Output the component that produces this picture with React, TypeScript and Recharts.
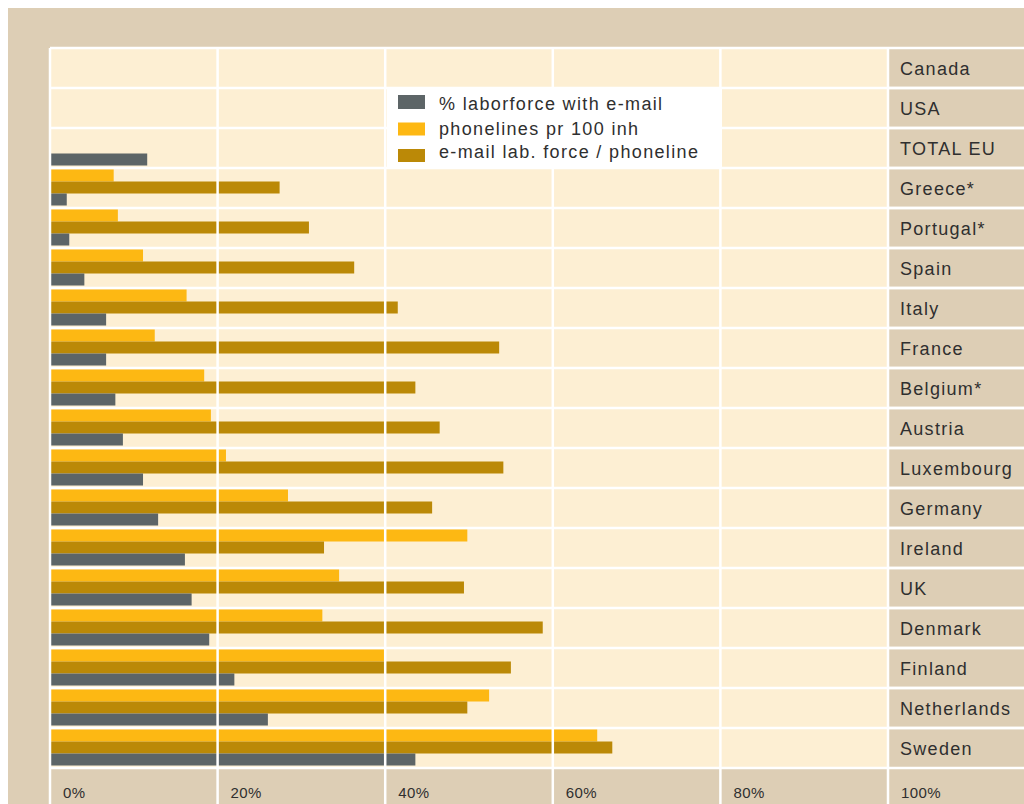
import React from 'react';
import { BarChart, Bar, XAxis, YAxis, CartesianGrid, ReferenceLine, Legend } from 'recharts';

const countries = ['Canada', 'USA', 'TOTAL EU', 'Greece*', 'Portugal*', 'Spain', 'Italy', 'France', 'Belgium*', 'Austria', 'Luxembourg', 'Germany', 'Ireland', 'UK', 'Denmark', 'Finland', 'Netherlands', 'Sweden'];
const laborforceEmail = [null, null, 11.6, 2.0, 2.3, 4.1, 6.7, 6.7, 7.8, 8.7, 11.1, 12.9, 16.1, 16.9, 19.0, 22.0, 26.0, 43.6];
const phonelines = [null, null, null, 7.6, 8.1, 11.1, 16.3, 12.5, 18.4, 19.2, 21.0, 28.4, 49.8, 34.5, 32.5, 39.9, 52.4, 65.3];
const emailPerPhoneline = [null, null, null, 27.4, 30.9, 36.3, 41.5, 53.6, 43.6, 46.5, 54.1, 45.6, 32.7, 49.4, 58.8, 55.0, 49.8, 67.1];
const xTicks = [0, 20, 40, 60, 80, 100];

const seriesNames = {
  laborforce: '% laborforce with e-mail',
  phonelines: 'phonelines pr 100 inh',
  perPhoneline: 'e-mail lab. force / phoneline',
};
const legendOrder = ['laborforce', 'phonelines', 'perPhoneline'];

const data = countries.map((c, i) => ({
  country: c,
  laborforce: laborforceEmail[i],
  phonelines: phonelines[i],
  perPhoneline: emailPerPhoneline[i],
}));

const W = 1016;
const H = 796;
const MARGIN = { top: 40, right: 0, bottom: 0, left: 42 };
const LABEL_W = 136;
const XAXIS_H = 36;
const PLOT_H = H - MARGIN.top - MARGIN.bottom - XAXIS_H;
const PLOT_BOTTOM = MARGIN.top + PLOT_H;
const BAND = PLOT_H / countries.length;

const TAN = '#ddceb5';
const CREAM = '#fdefd3';
const YELLOW = '#fdb813';
const GOLD = '#bb8907';
const GRAY = '#5d6567';
const TEXT = '#2f2f2f';
const FONT = '"Liberation Sans", Arial, Helvetica, sans-serif';

const YTick = (props: any) => {
  const { x, y, payload } = props;
  return (
    <g>
      <line x1={x} x2={x + LABEL_W} y1={y - BAND / 2} y2={y - BAND / 2} stroke="#fff" strokeWidth={2.5} />
      <line x1={x} x2={x + LABEL_W} y1={y + BAND / 2} y2={y + BAND / 2} stroke="#fff" strokeWidth={2.5} />
      <text x={x + 12} y={y + 7} fill={TEXT} fontSize={18} letterSpacing={1.3} fontFamily={FONT} textAnchor="start">
        {payload.value}
      </text>
    </g>
  );
};

const XTick = (props: any) => {
  const { x, payload } = props;
  return (
    <g>
      <line x1={x} x2={x} y1={PLOT_BOTTOM} y2={PLOT_BOTTOM + XAXIS_H} stroke="#fff" strokeWidth={2.5} />
      <text x={x + 13} y={PLOT_BOTTOM + 30} fill={TEXT} fontSize={15} letterSpacing={0.4} fontFamily={FONT} textAnchor="start">
        {`${payload.value}%`}
      </text>
    </g>
  );
};

const LegendBox = (props: any) => {
  const payload = props.payload || [];
  const items = legendOrder
    .map((k) => payload.find((p: any) => p.dataKey === k))
    .filter(Boolean);
  const swatchTops = [8, 35.5, 62];
  const swatchH = [14, 13, 13];
  const baselines = [23, 48, 71];
  return (
    <svg width={335} height={80} style={{ display: 'block' }}>
      <rect x={0} y={0} width={335} height={80} fill="#fff" />
      {items.map((it: any, i: number) => (
        <g key={it.dataKey}>
          <rect x={11} y={swatchTops[i]} width={27} height={swatchH[i]} fill={it.color} />
          <text x={52} y={baselines[i]} fontSize={18} letterSpacing={1.35} fill={TEXT} fontFamily={FONT}>
            {it.value}
          </text>
        </g>
      ))}
    </svg>
  );
};

const horizontalGen = (args: any) => {
  const off = args.offset;
  return Array.from({ length: countries.length + 1 }, (_, i) => off.top + (i * off.height) / countries.length);
};

export default function App() {
  return (
    <div style={{ position: 'fixed', left: 8, top: 8, width: W, height: H, background: TAN, fontFamily: FONT }}>
      <BarChart
        width={W}
        height={H}
        data={data}
        layout="vertical"
        margin={MARGIN}
        barCategoryGap={1.5}
        barGap={0}
      >
        <CartesianGrid
          fill={CREAM}
          fillOpacity={1}
          stroke="#fff"
          strokeWidth={2.5}
          vertical={false}
          horizontalCoordinatesGenerator={horizontalGen}
        />
        <XAxis
          type="number"
          domain={[0, 100]}
          ticks={xTicks}
          height={XAXIS_H}
          axisLine={false}
          tickLine={false}
          tickSize={0}
          tickMargin={0}
          tick={<XTick />}
          interval={0}
        />
        <YAxis
          type="category"
          dataKey="country"
          orientation="right"
          width={LABEL_W}
          axisLine={false}
          tickLine={false}
          tickSize={0}
          tickMargin={0}
          tick={<YTick />}
          interval={0}
        />
        <Bar dataKey="phonelines" name={seriesNames.phonelines} fill={YELLOW} isAnimationActive={false} />
        <Bar dataKey="perPhoneline" name={seriesNames.perPhoneline} fill={GOLD} isAnimationActive={false} />
        <Bar dataKey="laborforce" name={seriesNames.laborforce} fill={GRAY} isAnimationActive={false} />
        {xTicks.map((t) => (
          <ReferenceLine key={t} x={t} stroke="#fff" strokeWidth={2.5} />
        ))}
        <Legend
          layout="vertical"
          align="center"
          verticalAlign="middle"
          content={<LegendBox />}
          wrapperStyle={{ left: 379, top: 79, width: 335, height: 80 }}
        />
      </BarChart>
    </div>
  );
}
